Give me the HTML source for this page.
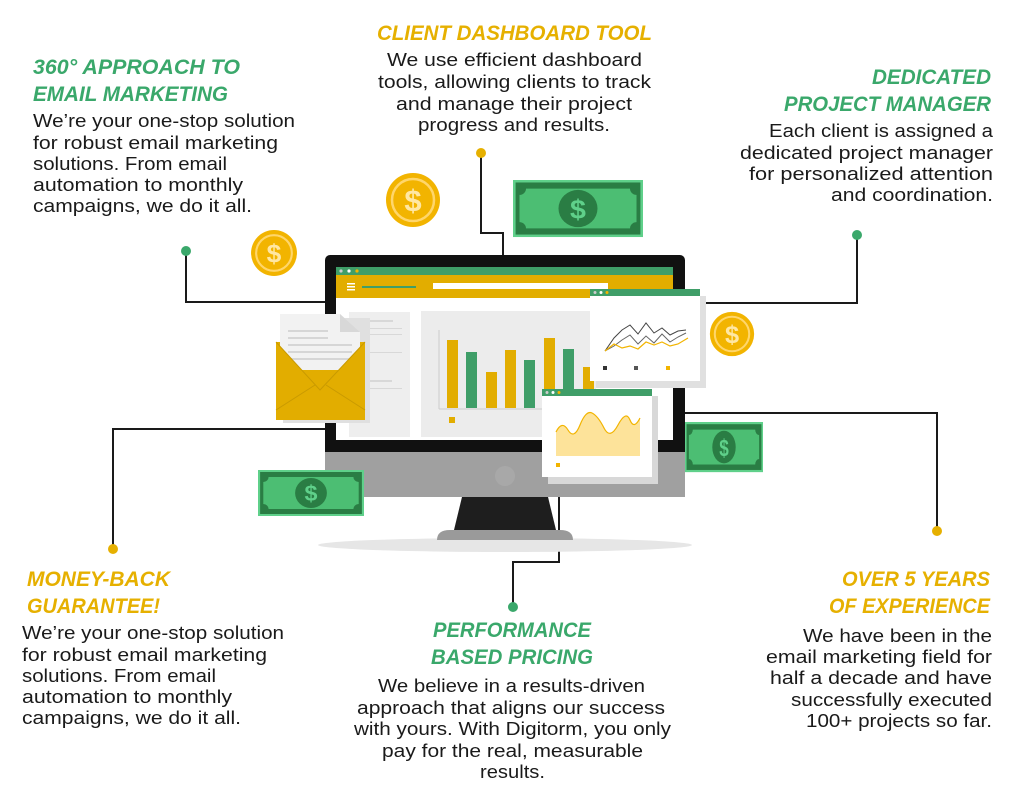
<!DOCTYPE html>
<html><head><meta charset="utf-8"><style>
html,body{margin:0;padding:0;background:#fff;}
svg{display:block;}
.h{font-family:"Liberation Sans",sans-serif;font-weight:bold;font-style:italic;font-size:21px;}
.g{fill:#3aa86b;}
.y{fill:#e6b000;}
.b{font-family:"Liberation Sans",sans-serif;font-size:18px;fill:#1a1a1a;}
</style></head><body>
<svg width="1024" height="798" viewBox="0 0 1024 798" xmlns="http://www.w3.org/2000/svg">
<defs>
<g id="bill">
<rect x="0" y="0" width="100" height="46" fill="#5fd08a"/>
<rect x="2" y="2" width="96" height="42" fill="#2a7d44"/>
<path d="M10 7 H90 a5 5 0 0 0 5 5 V34 a5 5 0 0 0 -5 5 H10 a5 5 0 0 0 -5 -5 V12 a5 5 0 0 0 5 -5z" fill="#4cbe73"/>
<circle cx="50" cy="23" r="15" fill="#2a7d44"/>
<text x="50" y="31" text-anchor="middle" font-family="Liberation Sans,sans-serif" font-weight="bold" font-size="22" fill="#5fd08a">$</text>
</g>
<g id="coin">
<circle cx="0" cy="0" r="27" fill="#f2b400"/>
<circle cx="0" cy="0" r="21" fill="none" stroke="#ffd66b" stroke-width="2.5"/>
<text x="0" y="11" text-anchor="middle" font-family="Liberation Sans,sans-serif" font-weight="bold" font-size="31" fill="#ffe7a3">$</text>
</g>
</defs>

<!-- connectors -->
<g stroke="#1a1a1a" stroke-width="2" fill="none">
<path d="M186 251 V302 H326"/>
<path d="M481 153 V233 H503 V256"/>
<path d="M857 235 V303 H700"/>
<path d="M113 549 V429 H326"/>
<path d="M937 531 V413 H685"/>
<path d="M513 607 V562 H559 V477"/>
</g>
<circle cx="186" cy="251" r="5" fill="#3aa86b"/>
<circle cx="481" cy="153" r="5" fill="#e6b000"/>
<circle cx="857" cy="235" r="5" fill="#3aa86b"/>
<circle cx="113" cy="549" r="5" fill="#e6b000"/>
<circle cx="937" cy="531" r="5" fill="#e6b000"/>
<circle cx="513" cy="607" r="5" fill="#3aa86b"/>

<!-- shadow -->
<ellipse cx="505" cy="545" rx="187" ry="7" fill="#e6e6e6"/>
<!-- right bill behind monitor -->
<use href="#bill" transform="translate(685,422) scale(0.78,1.09)"/>
<!-- monitor -->
<path d="M462 497 H548 L556 530 H454z" fill="#1e1e1e"/>
<path d="M437 540 Q437 530 450 530 H560 Q573 530 573 540z" fill="#9a9a9a"/>
<rect x="325" y="255" width="360" height="242" rx="5" fill="#111"/>
<rect x="325" y="452" width="360" height="45" fill="#a0a0a0"/>
<circle cx="505" cy="476" r="10" fill="#a8a8a8"/>
<rect x="336" y="267" width="337" height="173" fill="#fff"/>
<rect x="336" y="267" width="337" height="8" fill="#3f9e68"/>
<circle cx="341" cy="271" r="1.6" fill="#ccc"/><circle cx="349" cy="271" r="1.6" fill="#fff"/><circle cx="357" cy="271" r="1.6" fill="#f2b400"/>
<rect x="336" y="275" width="337" height="23" fill="#e2ad00"/>
<rect x="347" y="283" width="8" height="1.5" fill="#fff"/><rect x="347" y="286" width="8" height="1.5" fill="#fff"/><rect x="347" y="289" width="8" height="1.5" fill="#fff"/>
<rect x="362" y="286" width="54" height="2" fill="#3f9e68"/>
<rect x="433" y="283" width="175" height="6" fill="#fff"/>
<!-- panels -->
<rect x="349" y="312" width="61" height="125" fill="#eeeeee"/>
<g fill="#d8d8d8"><rect x="357" y="320" width="36" height="2"/><rect x="362" y="328" width="40" height="1"/><rect x="362" y="334" width="40" height="1"/><rect x="362" y="352" width="40" height="1"/><rect x="362" y="380" width="30" height="2"/><rect x="362" y="388" width="40" height="1"/></g>
<rect x="421" y="311" width="175" height="126" fill="#ececec"/>
<line x1="439" y1="330" x2="439" y2="409" stroke="#ccc"/>
<line x1="439" y1="409" x2="600" y2="409" stroke="#ccc"/>
<g fill="#e2ad00"><rect x="447" y="340" width="11" height="68"/><rect x="486" y="372" width="11" height="36"/><rect x="505" y="350" width="11" height="58"/><rect x="544" y="338" width="11" height="70"/><rect x="583" y="367" width="11" height="41"/><rect x="449" y="417" width="6" height="6"/></g>
<g fill="#3f9e68"><rect x="466" y="352" width="11" height="56"/><rect x="524" y="360" width="11" height="48"/><rect x="563" y="349" width="11" height="59"/></g>
<!-- envelope -->
<rect x="283" y="318" width="87" height="105" fill="#e0e0e0"/>
<rect x="276" y="342" width="89" height="78" fill="#e2ad00"/>
<path d="M280 314 H340 L360 332 V370 H280z" fill="#f2f2f2"/>
<path d="M340 314 V332 H360z" fill="#d8d8d8"/>
<g fill="#d6d6d6"><rect x="288" y="330" width="40" height="2"/><rect x="288" y="337" width="40" height="2"/><rect x="288" y="344" width="64" height="2"/><rect x="288" y="351" width="64" height="2"/><rect x="288" y="358" width="64" height="2"/></g>
<path d="M276 342 L320 390 L365 342 V420 H276z" fill="#e2ad00"/>
<path d="M276 342 L320 390 L365 342" fill="none" stroke="#c99a00" stroke-width="1"/>
<path d="M276 410 L315 385 M365 410 L326 385" stroke="#c99a00" stroke-width="1"/>
<!-- popup 1 -->
<rect x="596" y="296" width="110" height="92" fill="#e0e0e0"/>
<rect x="590" y="289" width="110" height="92" fill="#fff"/>
<rect x="590" y="289" width="110" height="7" fill="#3f9e68"/>
<circle cx="595" cy="292.5" r="1.5" fill="#ccc"/><circle cx="601" cy="292.5" r="1.5" fill="#fff"/><circle cx="607" cy="292.5" r="1.5" fill="#f2b400"/>
<polyline points="605,351 614,338 622,330 630,325 638,334 646,323 654,333 662,328 670,335 678,331 686,330" fill="none" stroke="#444" stroke-width="1"/>
<polyline points="605,351 614,346 622,340 630,335 638,344 646,336 654,343 662,334 670,342 678,337 686,333" fill="none" stroke="#666" stroke-width="1"/>
<polyline points="605,351 614,344 622,348 630,346 638,349 646,342 654,345 662,342 670,346 678,344 688,338" fill="none" stroke="#f2b400" stroke-width="1.2"/>
<rect x="603" y="366" width="4" height="4" fill="#333"/><rect x="634" y="366" width="4" height="4" fill="#555"/><rect x="666" y="366" width="4" height="4" fill="#f2b400"/>
<!-- popup 2 -->
<rect x="548" y="396" width="110" height="88" fill="#d8d8d8"/>
<rect x="542" y="389" width="110" height="88" fill="#fff"/>
<rect x="542" y="389" width="110" height="7" fill="#3f9e68"/>
<circle cx="547" cy="392.5" r="1.5" fill="#ccc"/><circle cx="553" cy="392.5" r="1.5" fill="#fff"/><circle cx="559" cy="392.5" r="1.5" fill="#f2b400"/>
<path d="M556 432 Q562 420 568 430 T580 425 T592 413 T604 428 T618 425 T630 420 T640 418 V456 H556z" fill="#fde39a"/>
<path d="M556 432 Q562 420 568 430 T580 425 T592 413 T604 428 T618 425 T630 420 T640 418" fill="none" stroke="#f2b400" stroke-width="1.2"/>
<rect x="556" y="463" width="4" height="4" fill="#f2b400"/>
<!-- bills & coins -->
<use href="#bill" transform="translate(513,180) scale(1.3,1.24)"/>
<use href="#bill" transform="translate(258,470) scale(1.06,1)"/>
<use href="#coin" transform="translate(413,200)"/>
<use href="#coin" transform="translate(274,253) scale(0.85)"/>
<use href="#coin" transform="translate(732,334) scale(0.82)"/>

<!-- text blocks -->
<text class="h g" x="33" y="74" textLength="207" lengthAdjust="spacingAndGlyphs">360° APPROACH TO</text>
<text class="h g" x="33" y="101" textLength="195" lengthAdjust="spacingAndGlyphs">EMAIL MARKETING</text>
<g class="b">
<text x="33" y="127" textLength="262" lengthAdjust="spacingAndGlyphs">We’re your one-stop solution</text>
<text x="33" y="149" textLength="245" lengthAdjust="spacingAndGlyphs">for robust email marketing</text>
<text x="33" y="170" textLength="194" lengthAdjust="spacingAndGlyphs">solutions. From email</text>
<text x="33" y="191" textLength="210" lengthAdjust="spacingAndGlyphs">automation to monthly</text>
<text x="33" y="212" textLength="219" lengthAdjust="spacingAndGlyphs">campaigns, we do it all.</text>
</g>

<text class="h y" x="377" y="40" textLength="275" lengthAdjust="spacingAndGlyphs">CLIENT DASHBOARD TOOL</text>
<g class="b">
<text x="387" y="66" textLength="255" lengthAdjust="spacingAndGlyphs">We use efficient dashboard</text>
<text x="378" y="88" textLength="273" lengthAdjust="spacingAndGlyphs">tools, allowing clients to track</text>
<text x="396" y="110" textLength="236" lengthAdjust="spacingAndGlyphs">and manage their project</text>
<text x="418" y="131" textLength="192" lengthAdjust="spacingAndGlyphs">progress and results.</text>
</g>

<text class="h g" x="872" y="84" textLength="119" lengthAdjust="spacingAndGlyphs">DEDICATED</text>
<text class="h g" x="784" y="111" textLength="207" lengthAdjust="spacingAndGlyphs">PROJECT MANAGER</text>
<g class="b">
<text x="769" y="137" textLength="224" lengthAdjust="spacingAndGlyphs">Each client is assigned a</text>
<text x="740" y="159" textLength="253" lengthAdjust="spacingAndGlyphs">dedicated project manager</text>
<text x="749" y="180" textLength="244" lengthAdjust="spacingAndGlyphs">for personalized attention</text>
<text x="831" y="201" textLength="162" lengthAdjust="spacingAndGlyphs">and coordination.</text>
</g>

<text class="h y" x="27" y="586" textLength="143" lengthAdjust="spacingAndGlyphs">MONEY-BACK</text>
<text class="h y" x="27" y="613" textLength="133" lengthAdjust="spacingAndGlyphs">GUARANTEE!</text>
<g class="b">
<text x="22" y="639" textLength="262" lengthAdjust="spacingAndGlyphs">We’re your one-stop solution</text>
<text x="22" y="661" textLength="245" lengthAdjust="spacingAndGlyphs">for robust email marketing</text>
<text x="22" y="682" textLength="194" lengthAdjust="spacingAndGlyphs">solutions. From email</text>
<text x="22" y="703" textLength="210" lengthAdjust="spacingAndGlyphs">automation to monthly</text>
<text x="22" y="724" textLength="219" lengthAdjust="spacingAndGlyphs">campaigns, we do it all.</text>
</g>

<text class="h g" x="433" y="637" textLength="158" lengthAdjust="spacingAndGlyphs">PERFORMANCE</text>
<text class="h g" x="431" y="664" textLength="162" lengthAdjust="spacingAndGlyphs">BASED PRICING</text>
<g class="b">
<text x="378" y="692" textLength="267" lengthAdjust="spacingAndGlyphs">We believe in a results-driven</text>
<text x="357" y="714" textLength="308" lengthAdjust="spacingAndGlyphs">approach that aligns our success</text>
<text x="354" y="735" textLength="317" lengthAdjust="spacingAndGlyphs">with yours. With Digitorm, you only</text>
<text x="382" y="757" textLength="261" lengthAdjust="spacingAndGlyphs">pay for the real, measurable</text>
<text x="480" y="778" textLength="65" lengthAdjust="spacingAndGlyphs">results.</text>
</g>

<text class="h y" x="842" y="586" textLength="148" lengthAdjust="spacingAndGlyphs">OVER 5 YEARS</text>
<text class="h y" x="829" y="613" textLength="161" lengthAdjust="spacingAndGlyphs">OF EXPERIENCE</text>
<g class="b">
<text x="803" y="642" textLength="189" lengthAdjust="spacingAndGlyphs">We have been in the</text>
<text x="766" y="663" textLength="226" lengthAdjust="spacingAndGlyphs">email marketing field for</text>
<text x="770" y="684" textLength="222" lengthAdjust="spacingAndGlyphs">half a decade and have</text>
<text x="791" y="706" textLength="201" lengthAdjust="spacingAndGlyphs">successfully executed</text>
<text x="806" y="727" textLength="186" lengthAdjust="spacingAndGlyphs">100+ projects so far.</text>
</g>
</svg>
</body></html>
